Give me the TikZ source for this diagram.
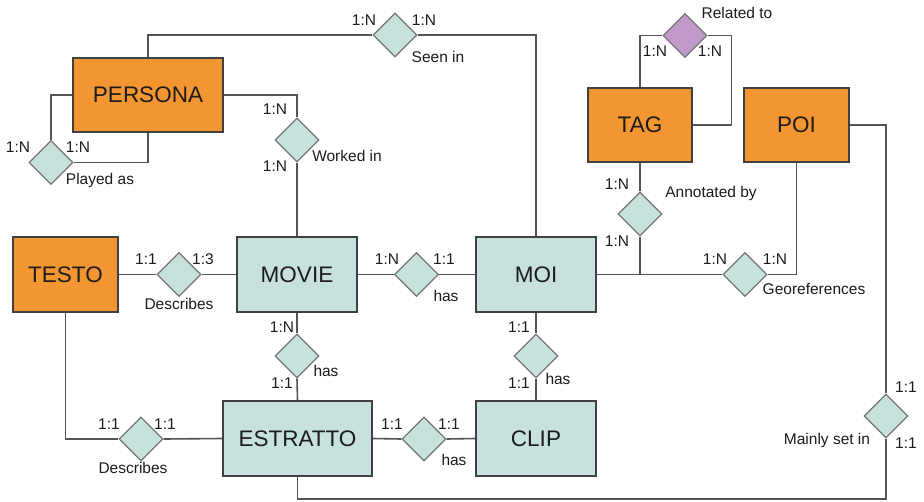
\documentclass[tikz,border=0pt]{standalone}
\usepackage{fontspec}
\setmainfont{Liberation Sans}
\usetikzlibrary{shapes.geometric}
\definecolor{entorange}{RGB}{243,149,48}
\definecolor{entteal}{RGB}{198,225,222}
\definecolor{relpurple}{RGB}{192,154,200}
\definecolor{edgegray}{RGB}{84,84,84}
\definecolor{boxline}{RGB}{64,64,64}
\definecolor{dmdline}{RGB}{118,118,118}
\definecolor{inktext}{RGB}{28,28,28}

\begin{document}
\begin{tikzpicture}[x=1pt,y=-1pt,
  entity/.style={draw=boxline, line width=1.6pt, minimum width=#1,
    minimum height=74pt, inner sep=0pt,
    font=\fontsize{22.5}{27}\selectfont, text=inktext},
  strong/.style={entity=#1, fill=entorange},
  weak/.style={entity=#1, fill=entteal},
  rel/.style={diamond, aspect=1, draw=dmdline, line width=1.3pt,
    minimum width=44pt, minimum height=44pt, inner sep=0pt, fill=entteal},
  selfrel/.style={rel, fill=relpurple},
  lbl/.style={anchor=base, inner sep=0pt, text=inktext,
    font=\fontsize{15.5}{18}\selectfont},
  link/.style={draw=edgegray, line width=1.6pt}]

\useasboundingbox (0,0) rectangle (924,501);
\fill[white] (0,0) rectangle (924,501);

% entities
\node[strong=150pt] (persona)  at (148,95)      {PERSONA};
\node[strong=104pt] (tag)      at (640,125)     {TAG};
\node[strong=105pt] (poi)      at (796.5,125)   {POI};
\node[strong=105pt, minimum height=75pt] (testo) at (65.5,274.5) {TESTO};
\node[weak=120pt, minimum height=75pt] (movie)    at (297,274.5)   {MOVIE};
\node[weak=120pt, minimum height=75pt] (moi)      at (536,274.5)   {MOI};
\node[weak=149pt, minimum height=75pt] (estratto) at (297.5,438.5) {ESTRATTO};
\node[weak=120pt, minimum height=75pt] (clip)     at (536,438.5)   {CLIP};

% relationships
\node[rel] (seen)    at (395,35)      {};
\node[rel] (worked)  at (297,140)     {};
\node[rel] (played)  at (51,162.5)    {};
\node[selfrel] (related) at (685,35.5) {};
\node[rel] (annot)   at (640,214)     {};
\node[rel] (geo)     at (745,274.5)   {};
\node[rel] (mainly)  at (886,416)     {};
\node[rel] (descA)   at (179,274.5)   {};
\node[rel] (hasA)    at (416.5,274.5) {};
\node[rel] (hasB)    at (297,356)     {};
\node[rel] (hasC)    at (536,356)     {};
\node[rel] (descB)   at (141,439)     {};
\node[rel] (hasD)    at (424,439)     {};

\coordinate (bottomrun) at (297.5,499);

% connectors
\path[link] (persona.north) |- (seen.west);
\path[link] (seen.east) -| (moi.north);
\path[link] (persona.east) -| (worked.north);
\path[link] (worked.south) -- (movie.north);
\path[link] (persona.west) -| (played.north);
\path[link] (played.east) -| (persona.south);
\path[link] (tag.north) |- (related.west);
\path[link] (related.east) -- ++(24,0) |- (tag.east);
\path[link] (tag.south) -- (annot.north);
\path[link] (annot.south) -- (annot.south |- moi.east);
\path[link] (moi.east) -- (geo.west);
\path[link] (geo.east) -| (poi.south);
\path[link] (poi.east) -| (mainly.north);
\path[link] (mainly.south) |- (bottomrun) -- (estratto.south);
\path[link] (testo.east) -- (descA.west);
\path[link] (descA.east) -- (movie.west);
\path[link] (testo.south) |- (descB.west);
\path[link] (descB.east) -- (estratto.west);
\path[link] (movie.east) -- (hasA.west);
\path[link] (hasA.east) -- (moi.west);
\path[link] (movie.south) -- (hasB.north);
\path[link] (hasB.south) -- (estratto.north);
\path[link] (moi.south) -- (hasC.north);
\path[link] (hasC.south) -- (clip.north);
\path[link] (estratto.east) -- (hasD.west);
\path[link] (hasD.east) -- (clip.west);

% cardinalities and relationship names
\node[lbl] (cSeenA)   at (364,25.5)  {1:N};
\node[lbl] (cSeenB)   at (424,25.5)  {1:N};
\node[lbl] (nSeen)    at (438,62.5)  {Seen in};
\node[lbl] (cWorkA)   at (275,114.5) {1:N};
\node[lbl] (cWorkB)   at (275,171.5) {1:N};
\node[lbl] (nWork)    at (347,161.5) {Worked in};
\node[lbl] (cPlayA)   at (18,152.5)  {1:N};
\node[lbl] (cPlayB)   at (78,152.5)  {1:N};
\node[lbl] (nPlay)    at (100,184.5) {Played as};
\node[lbl] (nRel)     at (737,18.5)  {Related to};
\node[lbl] (cRelA)    at (655,56.5)  {1:N};
\node[lbl] (cRelB)    at (710,56.5)  {1:N};
\node[lbl] (nAnnot)   at (711,197.5) {Annotated by};
\node[lbl] (cAnnotA)  at (617,189.5) {1:N};
\node[lbl] (cAnnotB)  at (617,246.5) {1:N};
\node[lbl] (cGeoA)    at (715,264.5) {1:N};
\node[lbl] (cGeoB)    at (775,264.5) {1:N};
\node[lbl] (nGeo)     at (814,294.5) {Georeferences};
\node[lbl] (cMainA)   at (906,392.5) {1:1};
\node[lbl] (cMainB)   at (906,448.5) {1:1};
\node[lbl] (nMain)    at (827,444.5) {Mainly set in};
\node[lbl] (cDescA1)  at (146,264.5) {1:1};
\node[lbl] (cDescA2)  at (203,264.5) {1:3};
\node[lbl] (nDescA)   at (179,309.5) {Describes};
\node[lbl] (cHasB1)   at (282,332.5) {1:N};
\node[lbl] (cHasB2)   at (282,388.5) {1:1};
\node[lbl] (nHasB)    at (326,376.5) {has};
\node[lbl] (cDescB1)  at (109,429.5) {1:1};
\node[lbl] (cDescB2)  at (165,429.5) {1:1};
\node[lbl] (nDescB)   at (133,473.5) {Describes};
\node[lbl] (cHasA1)   at (387,264.5) {1:N};
\node[lbl] (cHasA2)   at (444,264.5) {1:1};
\node[lbl] (nHasA)    at (446,301.5) {has};
\node[lbl] (cHasC1)   at (519,332.5) {1:1};
\node[lbl] (cHasC2)   at (519,388.5) {1:1};
\node[lbl] (nHasC)    at (558,384.5) {has};
\node[lbl] (cHasD1)   at (392,429.5) {1:1};
\node[lbl] (cHasD2)   at (449,429.5) {1:1};
\node[lbl] (nHasD)    at (454,465.5) {has};
\end{tikzpicture}
\end{document}
